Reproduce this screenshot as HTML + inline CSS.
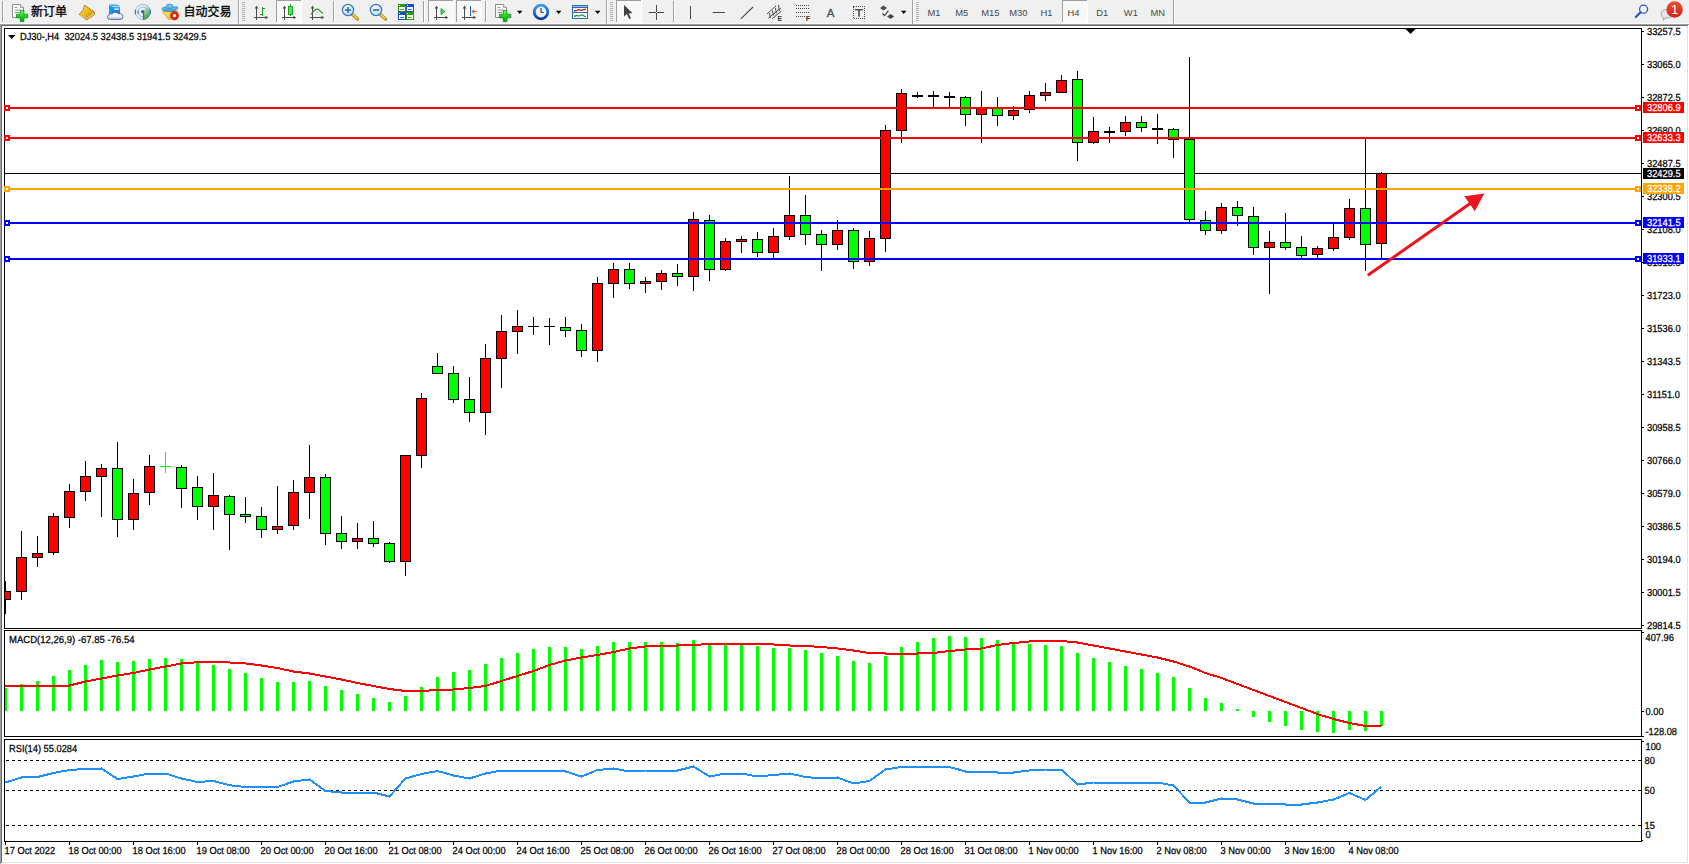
<!DOCTYPE html>
<html><head><meta charset="utf-8"><title>DJ30-,H4</title>
<style>
html,body{margin:0;padding:0;background:#fff;}
body{width:1689px;height:864px;overflow:hidden;position:relative;font-family:"Liberation Sans","Noto Sans CJK SC",sans-serif;}
svg text{white-space:pre;}
</style></head><body>
<svg width="1689" height="864" viewBox="0 0 1689 864" style="position:absolute;left:0;top:0;display:block">
<defs><clipPath id="cm"><rect x="5" y="29" width="1636" height="599"/></clipPath></defs>
<g shape-rendering="crispEdges">
<rect x="0" y="0" width="1689" height="24" fill="#f0f0f0"/>
<rect x="0" y="23" width="1689" height="1" fill="#f9f9f9"/>
<rect x="0" y="24" width="1689" height="840" fill="#ffffff"/>
<rect x="0" y="24" width="1689" height="1" fill="#a0a0a0"/>
<rect x="0" y="25" width="1688" height="1" fill="#696969"/>
<rect x="0" y="24" width="1" height="840" fill="#a0a0a0"/>
<rect x="1" y="25" width="1" height="838" fill="#696969"/>
<rect x="1687" y="26" width="1" height="837" fill="#e3e3e3"/>
<rect x="2" y="862" width="1686" height="1" fill="#e3e3e3"/>
<rect x="4" y="28" width="1638" height="1" fill="#000"/>
<rect x="4" y="28" width="1" height="601" fill="#000"/>
<rect x="4" y="628" width="1638" height="1" fill="#000"/>
<rect x="1641" y="28" width="1" height="601" fill="#000"/>
<rect x="4" y="630" width="1638" height="1" fill="#000"/>
<rect x="4" y="630" width="1" height="107" fill="#000"/>
<rect x="4" y="736" width="1638" height="1" fill="#000"/>
<rect x="1641" y="630" width="1" height="107" fill="#000"/>
<rect x="4" y="739" width="1638" height="1" fill="#000"/>
<rect x="4" y="739" width="1" height="103" fill="#000"/>
<rect x="4" y="841" width="1638" height="1" fill="#000"/>
<rect x="1641" y="739" width="1" height="103" fill="#000"/>
<path d="M1405.5 29 L1415.5 29 L1410.5 34 Z" fill="#000" shape-rendering="geometricPrecision"/>
<rect x="1642" y="31" width="2" height="1" fill="#000"/>
<rect x="1642" y="64" width="2" height="1" fill="#000"/>
<rect x="1642" y="97" width="2" height="1" fill="#000"/>
<rect x="1642" y="130" width="2" height="1" fill="#000"/>
<rect x="1642" y="163" width="2" height="1" fill="#000"/>
<rect x="1642" y="196" width="2" height="1" fill="#000"/>
<rect x="1642" y="229" width="2" height="1" fill="#000"/>
<rect x="1642" y="262" width="2" height="1" fill="#000"/>
<rect x="1642" y="295" width="2" height="1" fill="#000"/>
<rect x="1642" y="328" width="2" height="1" fill="#000"/>
<rect x="1642" y="361" width="2" height="1" fill="#000"/>
<rect x="1642" y="394" width="2" height="1" fill="#000"/>
<rect x="1642" y="427" width="2" height="1" fill="#000"/>
<rect x="1642" y="460" width="2" height="1" fill="#000"/>
<rect x="1642" y="493" width="2" height="1" fill="#000"/>
<rect x="1642" y="526" width="2" height="1" fill="#000"/>
<rect x="1642" y="559" width="2" height="1" fill="#000"/>
<rect x="1642" y="592" width="2" height="1" fill="#000"/>
<rect x="1642" y="625" width="2" height="1" fill="#000"/>
<rect x="1642" y="711" width="2" height="1" fill="#000"/>
<rect x="1642" y="632" width="2" height="1" fill="#000"/>
<rect x="1642" y="736" width="2" height="1" fill="#000"/>
<rect x="1642" y="741" width="2" height="1" fill="#000"/>
<rect x="1642" y="840" width="1" height="1" fill="#000"/>
</g>
<text transform="translate(1647 34.8) scale(0.912 1)" font-family="Liberation Sans, sans-serif" font-size="10.2" fill="#000" text-anchor="start" text-rendering="geometricPrecision" stroke="#000" stroke-width="0.25">33257.5</text>
<text transform="translate(1647 67.8) scale(0.912 1)" font-family="Liberation Sans, sans-serif" font-size="10.2" fill="#000" text-anchor="start" text-rendering="geometricPrecision" stroke="#000" stroke-width="0.25">33065.0</text>
<text transform="translate(1647 100.8) scale(0.912 1)" font-family="Liberation Sans, sans-serif" font-size="10.2" fill="#000" text-anchor="start" text-rendering="geometricPrecision" stroke="#000" stroke-width="0.25">32872.5</text>
<text transform="translate(1647 133.8) scale(0.912 1)" font-family="Liberation Sans, sans-serif" font-size="10.2" fill="#000" text-anchor="start" text-rendering="geometricPrecision" stroke="#000" stroke-width="0.25">32680.0</text>
<text transform="translate(1647 166.8) scale(0.912 1)" font-family="Liberation Sans, sans-serif" font-size="10.2" fill="#000" text-anchor="start" text-rendering="geometricPrecision" stroke="#000" stroke-width="0.25">32487.5</text>
<text transform="translate(1647 199.8) scale(0.912 1)" font-family="Liberation Sans, sans-serif" font-size="10.2" fill="#000" text-anchor="start" text-rendering="geometricPrecision" stroke="#000" stroke-width="0.25">32300.5</text>
<text transform="translate(1647 232.8) scale(0.912 1)" font-family="Liberation Sans, sans-serif" font-size="10.2" fill="#000" text-anchor="start" text-rendering="geometricPrecision" stroke="#000" stroke-width="0.25">32108.0</text>
<text transform="translate(1647 265.8) scale(0.912 1)" font-family="Liberation Sans, sans-serif" font-size="10.2" fill="#000" text-anchor="start" text-rendering="geometricPrecision" stroke="#000" stroke-width="0.25">31915.5</text>
<text transform="translate(1647 298.8) scale(0.912 1)" font-family="Liberation Sans, sans-serif" font-size="10.2" fill="#000" text-anchor="start" text-rendering="geometricPrecision" stroke="#000" stroke-width="0.25">31723.0</text>
<text transform="translate(1647 331.8) scale(0.912 1)" font-family="Liberation Sans, sans-serif" font-size="10.2" fill="#000" text-anchor="start" text-rendering="geometricPrecision" stroke="#000" stroke-width="0.25">31536.0</text>
<text transform="translate(1647 364.8) scale(0.912 1)" font-family="Liberation Sans, sans-serif" font-size="10.2" fill="#000" text-anchor="start" text-rendering="geometricPrecision" stroke="#000" stroke-width="0.25">31343.5</text>
<text transform="translate(1647 397.8) scale(0.912 1)" font-family="Liberation Sans, sans-serif" font-size="10.2" fill="#000" text-anchor="start" text-rendering="geometricPrecision" stroke="#000" stroke-width="0.25">31151.0</text>
<text transform="translate(1647 430.8) scale(0.912 1)" font-family="Liberation Sans, sans-serif" font-size="10.2" fill="#000" text-anchor="start" text-rendering="geometricPrecision" stroke="#000" stroke-width="0.25">30958.5</text>
<text transform="translate(1647 463.8) scale(0.912 1)" font-family="Liberation Sans, sans-serif" font-size="10.2" fill="#000" text-anchor="start" text-rendering="geometricPrecision" stroke="#000" stroke-width="0.25">30766.0</text>
<text transform="translate(1647 496.8) scale(0.912 1)" font-family="Liberation Sans, sans-serif" font-size="10.2" fill="#000" text-anchor="start" text-rendering="geometricPrecision" stroke="#000" stroke-width="0.25">30579.0</text>
<text transform="translate(1647 529.8) scale(0.912 1)" font-family="Liberation Sans, sans-serif" font-size="10.2" fill="#000" text-anchor="start" text-rendering="geometricPrecision" stroke="#000" stroke-width="0.25">30386.5</text>
<text transform="translate(1647 562.8) scale(0.912 1)" font-family="Liberation Sans, sans-serif" font-size="10.2" fill="#000" text-anchor="start" text-rendering="geometricPrecision" stroke="#000" stroke-width="0.25">30194.0</text>
<text transform="translate(1647 595.8) scale(0.912 1)" font-family="Liberation Sans, sans-serif" font-size="10.2" fill="#000" text-anchor="start" text-rendering="geometricPrecision" stroke="#000" stroke-width="0.25">30001.5</text>
<text transform="translate(1647 628.8) scale(0.912 1)" font-family="Liberation Sans, sans-serif" font-size="10.2" fill="#000" text-anchor="start" text-rendering="geometricPrecision" stroke="#000" stroke-width="0.25">29814.5</text>
<text transform="translate(1645.5 640.5) scale(0.912 1)" font-family="Liberation Sans, sans-serif" font-size="10.2" fill="#000" text-anchor="start" text-rendering="geometricPrecision" stroke="#000" stroke-width="0.25">407.96</text>
<text transform="translate(1645.5 715) scale(0.912 1)" font-family="Liberation Sans, sans-serif" font-size="10.2" fill="#000" text-anchor="start" text-rendering="geometricPrecision" stroke="#000" stroke-width="0.25">0.00</text>
<text transform="translate(1645.5 734.5) scale(0.912 1)" font-family="Liberation Sans, sans-serif" font-size="10.2" fill="#000" text-anchor="start" text-rendering="geometricPrecision" stroke="#000" stroke-width="0.25">-128.08</text>
<text transform="translate(1645.5 750.3) scale(0.912 1)" font-family="Liberation Sans, sans-serif" font-size="10.2" fill="#000" text-anchor="start" text-rendering="geometricPrecision" stroke="#000" stroke-width="0.25">100</text>
<text transform="translate(1644.5 764.3) scale(0.912 1)" font-family="Liberation Sans, sans-serif" font-size="10.2" fill="#000" text-anchor="start" text-rendering="geometricPrecision" stroke="#000" stroke-width="0.25">80</text>
<text transform="translate(1644.5 794.3) scale(0.912 1)" font-family="Liberation Sans, sans-serif" font-size="10.2" fill="#000" text-anchor="start" text-rendering="geometricPrecision" stroke="#000" stroke-width="0.25">50</text>
<text transform="translate(1644.5 828.8) scale(0.912 1)" font-family="Liberation Sans, sans-serif" font-size="10.2" fill="#000" text-anchor="start" text-rendering="geometricPrecision" stroke="#000" stroke-width="0.25">15</text>
<text transform="translate(1645.5 838.2) scale(0.912 1)" font-family="Liberation Sans, sans-serif" font-size="10.2" fill="#000" text-anchor="start" text-rendering="geometricPrecision" stroke="#000" stroke-width="0.25">0</text>
<g shape-rendering="crispEdges" clip-path="url(#cm)">
<rect x="5" y="173" width="1636" height="1" fill="#000"/>
<rect x="5" y="581" width="1" height="33" fill="#000"/>
<rect x="0" y="591" width="11" height="9" fill="#000"/>
<rect x="1" y="592" width="9" height="7" fill="#ff0000"/>
<rect x="21" y="531" width="1" height="69" fill="#000"/>
<rect x="16" y="557" width="11" height="35" fill="#000"/>
<rect x="17" y="558" width="9" height="33" fill="#ff0000"/>
<rect x="37" y="536" width="1" height="31" fill="#000"/>
<rect x="32" y="553" width="11" height="5" fill="#000"/>
<rect x="33" y="554" width="9" height="3" fill="#ff0000"/>
<rect x="53" y="513" width="1" height="42" fill="#000"/>
<rect x="48" y="516" width="11" height="37" fill="#000"/>
<rect x="49" y="517" width="9" height="35" fill="#ff0000"/>
<rect x="69" y="484" width="1" height="44" fill="#000"/>
<rect x="64" y="491" width="11" height="27" fill="#000"/>
<rect x="65" y="492" width="9" height="25" fill="#ff0000"/>
<rect x="85" y="461" width="1" height="40" fill="#000"/>
<rect x="80" y="476" width="11" height="16" fill="#000"/>
<rect x="81" y="477" width="9" height="14" fill="#ff0000"/>
<rect x="101" y="464" width="1" height="53" fill="#000"/>
<rect x="96" y="468" width="11" height="9" fill="#000"/>
<rect x="97" y="469" width="9" height="7" fill="#ff0000"/>
<rect x="117" y="442" width="1" height="95" fill="#000"/>
<rect x="112" y="468" width="11" height="52" fill="#000"/>
<rect x="113" y="469" width="9" height="50" fill="#00ff00"/>
<rect x="133" y="479" width="1" height="51" fill="#000"/>
<rect x="128" y="493" width="11" height="27" fill="#000"/>
<rect x="129" y="494" width="9" height="25" fill="#ff0000"/>
<rect x="149" y="455" width="1" height="50" fill="#000"/>
<rect x="144" y="466" width="11" height="27" fill="#000"/>
<rect x="145" y="467" width="9" height="25" fill="#ff0000"/>
<rect x="165" y="452" width="1" height="21" fill="#00ff00"/>
<rect x="160" y="466" width="11" height="1" fill="#00ff00"/>
<rect x="181" y="465" width="1" height="43" fill="#000"/>
<rect x="176" y="467" width="11" height="22" fill="#000"/>
<rect x="177" y="468" width="9" height="20" fill="#00ff00"/>
<rect x="197" y="476" width="1" height="44" fill="#000"/>
<rect x="192" y="487" width="11" height="20" fill="#000"/>
<rect x="193" y="488" width="9" height="18" fill="#00ff00"/>
<rect x="213" y="473" width="1" height="57" fill="#000"/>
<rect x="208" y="495" width="11" height="12" fill="#000"/>
<rect x="209" y="496" width="9" height="10" fill="#ff0000"/>
<rect x="229" y="495" width="1" height="55" fill="#000"/>
<rect x="224" y="496" width="11" height="19" fill="#000"/>
<rect x="225" y="497" width="9" height="17" fill="#00ff00"/>
<rect x="245" y="497" width="1" height="26" fill="#000"/>
<rect x="240" y="514" width="11" height="3" fill="#000"/>
<rect x="241" y="515" width="9" height="1" fill="#00ff00"/>
<rect x="261" y="507" width="1" height="31" fill="#000"/>
<rect x="256" y="516" width="11" height="14" fill="#000"/>
<rect x="257" y="517" width="9" height="12" fill="#00ff00"/>
<rect x="277" y="486" width="1" height="48" fill="#000"/>
<rect x="272" y="526" width="11" height="4" fill="#000"/>
<rect x="273" y="527" width="9" height="2" fill="#ff0000"/>
<rect x="293" y="480" width="1" height="50" fill="#000"/>
<rect x="288" y="492" width="11" height="34" fill="#000"/>
<rect x="289" y="493" width="9" height="32" fill="#ff0000"/>
<rect x="309" y="445" width="1" height="74" fill="#000"/>
<rect x="304" y="477" width="11" height="16" fill="#000"/>
<rect x="305" y="478" width="9" height="14" fill="#ff0000"/>
<rect x="325" y="474" width="1" height="71" fill="#000"/>
<rect x="320" y="477" width="11" height="57" fill="#000"/>
<rect x="321" y="478" width="9" height="55" fill="#00ff00"/>
<rect x="341" y="516" width="1" height="33" fill="#000"/>
<rect x="336" y="533" width="11" height="9" fill="#000"/>
<rect x="337" y="534" width="9" height="7" fill="#00ff00"/>
<rect x="357" y="523" width="1" height="26" fill="#000"/>
<rect x="352" y="538" width="11" height="4" fill="#000"/>
<rect x="353" y="539" width="9" height="2" fill="#ff0000"/>
<rect x="373" y="521" width="1" height="26" fill="#000"/>
<rect x="368" y="538" width="11" height="6" fill="#000"/>
<rect x="369" y="539" width="9" height="4" fill="#00ff00"/>
<rect x="389" y="542" width="1" height="21" fill="#000"/>
<rect x="384" y="543" width="11" height="19" fill="#000"/>
<rect x="385" y="544" width="9" height="17" fill="#00ff00"/>
<rect x="405" y="455" width="1" height="121" fill="#000"/>
<rect x="400" y="455" width="11" height="107" fill="#000"/>
<rect x="401" y="456" width="9" height="105" fill="#ff0000"/>
<rect x="421" y="393" width="1" height="75" fill="#000"/>
<rect x="416" y="398" width="11" height="58" fill="#000"/>
<rect x="417" y="399" width="9" height="56" fill="#ff0000"/>
<rect x="437" y="353" width="1" height="21" fill="#000"/>
<rect x="432" y="366" width="11" height="8" fill="#000"/>
<rect x="433" y="367" width="9" height="6" fill="#00ff00"/>
<rect x="453" y="366" width="1" height="37" fill="#000"/>
<rect x="448" y="373" width="11" height="27" fill="#000"/>
<rect x="449" y="374" width="9" height="25" fill="#00ff00"/>
<rect x="469" y="377" width="1" height="45" fill="#000"/>
<rect x="464" y="399" width="11" height="14" fill="#000"/>
<rect x="465" y="400" width="9" height="12" fill="#00ff00"/>
<rect x="485" y="344" width="1" height="91" fill="#000"/>
<rect x="480" y="358" width="11" height="55" fill="#000"/>
<rect x="481" y="359" width="9" height="53" fill="#ff0000"/>
<rect x="501" y="315" width="1" height="73" fill="#000"/>
<rect x="496" y="331" width="11" height="28" fill="#000"/>
<rect x="497" y="332" width="9" height="26" fill="#ff0000"/>
<rect x="517" y="310" width="1" height="44" fill="#000"/>
<rect x="512" y="326" width="11" height="6" fill="#000"/>
<rect x="513" y="327" width="9" height="4" fill="#ff0000"/>
<rect x="533" y="317" width="1" height="18" fill="#000"/>
<rect x="528" y="326" width="11" height="1" fill="#000"/>
<rect x="549" y="318" width="1" height="27" fill="#000"/>
<rect x="544" y="326" width="11" height="1" fill="#000"/>
<rect x="565" y="317" width="1" height="20" fill="#000"/>
<rect x="560" y="327" width="11" height="4" fill="#000"/>
<rect x="561" y="328" width="9" height="2" fill="#00ff00"/>
<rect x="581" y="324" width="1" height="33" fill="#000"/>
<rect x="576" y="330" width="11" height="21" fill="#000"/>
<rect x="577" y="331" width="9" height="19" fill="#00ff00"/>
<rect x="597" y="277" width="1" height="85" fill="#000"/>
<rect x="592" y="283" width="11" height="68" fill="#000"/>
<rect x="593" y="284" width="9" height="66" fill="#ff0000"/>
<rect x="613" y="263" width="1" height="35" fill="#000"/>
<rect x="608" y="269" width="11" height="15" fill="#000"/>
<rect x="609" y="270" width="9" height="13" fill="#ff0000"/>
<rect x="629" y="263" width="1" height="26" fill="#000"/>
<rect x="624" y="269" width="11" height="15" fill="#000"/>
<rect x="625" y="270" width="9" height="13" fill="#00ff00"/>
<rect x="645" y="277" width="1" height="16" fill="#000"/>
<rect x="640" y="281" width="11" height="3" fill="#000"/>
<rect x="641" y="282" width="9" height="1" fill="#ff0000"/>
<rect x="661" y="270" width="1" height="20" fill="#000"/>
<rect x="656" y="273" width="11" height="9" fill="#000"/>
<rect x="657" y="274" width="9" height="7" fill="#ff0000"/>
<rect x="677" y="264" width="1" height="22" fill="#000"/>
<rect x="672" y="273" width="11" height="4" fill="#000"/>
<rect x="673" y="274" width="9" height="2" fill="#00ff00"/>
<rect x="693" y="212" width="1" height="79" fill="#000"/>
<rect x="688" y="219" width="11" height="58" fill="#000"/>
<rect x="689" y="220" width="9" height="56" fill="#ff0000"/>
<rect x="709" y="215" width="1" height="66" fill="#000"/>
<rect x="704" y="220" width="11" height="50" fill="#000"/>
<rect x="705" y="221" width="9" height="48" fill="#00ff00"/>
<rect x="725" y="238" width="1" height="33" fill="#000"/>
<rect x="720" y="241" width="11" height="29" fill="#000"/>
<rect x="721" y="242" width="9" height="27" fill="#ff0000"/>
<rect x="741" y="236" width="1" height="17" fill="#000"/>
<rect x="736" y="239" width="11" height="3" fill="#000"/>
<rect x="737" y="240" width="9" height="1" fill="#ff0000"/>
<rect x="757" y="232" width="1" height="25" fill="#000"/>
<rect x="752" y="239" width="11" height="14" fill="#000"/>
<rect x="753" y="240" width="9" height="12" fill="#00ff00"/>
<rect x="773" y="228" width="1" height="30" fill="#000"/>
<rect x="768" y="236" width="11" height="17" fill="#000"/>
<rect x="769" y="237" width="9" height="15" fill="#ff0000"/>
<rect x="789" y="176" width="1" height="64" fill="#000"/>
<rect x="784" y="215" width="11" height="22" fill="#000"/>
<rect x="785" y="216" width="9" height="20" fill="#ff0000"/>
<rect x="805" y="195" width="1" height="50" fill="#000"/>
<rect x="800" y="215" width="11" height="20" fill="#000"/>
<rect x="801" y="216" width="9" height="18" fill="#00ff00"/>
<rect x="821" y="230" width="1" height="41" fill="#000"/>
<rect x="816" y="234" width="11" height="11" fill="#000"/>
<rect x="817" y="235" width="9" height="9" fill="#00ff00"/>
<rect x="837" y="220" width="1" height="30" fill="#000"/>
<rect x="832" y="230" width="11" height="15" fill="#000"/>
<rect x="833" y="231" width="9" height="13" fill="#ff0000"/>
<rect x="853" y="228" width="1" height="41" fill="#000"/>
<rect x="848" y="230" width="11" height="32" fill="#000"/>
<rect x="849" y="231" width="9" height="30" fill="#00ff00"/>
<rect x="869" y="231" width="1" height="35" fill="#000"/>
<rect x="864" y="238" width="11" height="24" fill="#000"/>
<rect x="865" y="239" width="9" height="22" fill="#ff0000"/>
<rect x="885" y="125" width="1" height="127" fill="#000"/>
<rect x="880" y="130" width="11" height="109" fill="#000"/>
<rect x="881" y="131" width="9" height="107" fill="#ff0000"/>
<rect x="901" y="89" width="1" height="54" fill="#000"/>
<rect x="896" y="93" width="11" height="38" fill="#000"/>
<rect x="897" y="94" width="9" height="36" fill="#ff0000"/>
<rect x="917" y="92" width="1" height="6" fill="#000"/>
<rect x="912" y="95" width="11" height="2" fill="#000"/>
<rect x="933" y="91" width="1" height="16" fill="#000"/>
<rect x="928" y="95" width="11" height="2" fill="#000"/>
<rect x="949" y="92" width="1" height="15" fill="#000"/>
<rect x="944" y="96" width="11" height="2" fill="#000"/>
<rect x="965" y="96" width="1" height="30" fill="#000"/>
<rect x="960" y="97" width="11" height="18" fill="#000"/>
<rect x="961" y="98" width="9" height="16" fill="#00ff00"/>
<rect x="981" y="91" width="1" height="52" fill="#000"/>
<rect x="976" y="107" width="11" height="8" fill="#000"/>
<rect x="977" y="108" width="9" height="6" fill="#ff0000"/>
<rect x="997" y="97" width="1" height="29" fill="#000"/>
<rect x="992" y="108" width="11" height="8" fill="#000"/>
<rect x="993" y="109" width="9" height="6" fill="#00ff00"/>
<rect x="1013" y="106" width="1" height="14" fill="#000"/>
<rect x="1008" y="110" width="11" height="6" fill="#000"/>
<rect x="1009" y="111" width="9" height="4" fill="#ff0000"/>
<rect x="1029" y="91" width="1" height="22" fill="#000"/>
<rect x="1024" y="95" width="11" height="15" fill="#000"/>
<rect x="1025" y="96" width="9" height="13" fill="#ff0000"/>
<rect x="1045" y="83" width="1" height="18" fill="#000"/>
<rect x="1040" y="92" width="11" height="4" fill="#000"/>
<rect x="1041" y="93" width="9" height="2" fill="#ff0000"/>
<rect x="1061" y="75" width="1" height="18" fill="#000"/>
<rect x="1056" y="80" width="11" height="13" fill="#000"/>
<rect x="1057" y="81" width="9" height="11" fill="#ff0000"/>
<rect x="1077" y="71" width="1" height="90" fill="#000"/>
<rect x="1072" y="79" width="11" height="64" fill="#000"/>
<rect x="1073" y="80" width="9" height="62" fill="#00ff00"/>
<rect x="1093" y="117" width="1" height="27" fill="#000"/>
<rect x="1088" y="131" width="11" height="12" fill="#000"/>
<rect x="1089" y="132" width="9" height="10" fill="#ff0000"/>
<rect x="1109" y="127" width="1" height="16" fill="#000"/>
<rect x="1104" y="131" width="11" height="2" fill="#000"/>
<rect x="1125" y="116" width="1" height="20" fill="#000"/>
<rect x="1120" y="122" width="11" height="10" fill="#000"/>
<rect x="1121" y="123" width="9" height="8" fill="#ff0000"/>
<rect x="1141" y="116" width="1" height="16" fill="#000"/>
<rect x="1136" y="122" width="11" height="6" fill="#000"/>
<rect x="1137" y="123" width="9" height="4" fill="#00ff00"/>
<rect x="1157" y="114" width="1" height="30" fill="#000"/>
<rect x="1152" y="128" width="11" height="2" fill="#000"/>
<rect x="1173" y="128" width="1" height="30" fill="#000"/>
<rect x="1168" y="129" width="11" height="11" fill="#000"/>
<rect x="1169" y="130" width="9" height="9" fill="#00ff00"/>
<rect x="1189" y="57" width="1" height="165" fill="#000"/>
<rect x="1184" y="139" width="11" height="81" fill="#000"/>
<rect x="1185" y="140" width="9" height="79" fill="#00ff00"/>
<rect x="1205" y="211" width="1" height="24" fill="#000"/>
<rect x="1200" y="220" width="11" height="11" fill="#000"/>
<rect x="1201" y="221" width="9" height="9" fill="#00ff00"/>
<rect x="1221" y="203" width="1" height="31" fill="#000"/>
<rect x="1216" y="207" width="11" height="24" fill="#000"/>
<rect x="1217" y="208" width="9" height="22" fill="#ff0000"/>
<rect x="1237" y="201" width="1" height="25" fill="#000"/>
<rect x="1232" y="207" width="11" height="9" fill="#000"/>
<rect x="1233" y="208" width="9" height="7" fill="#00ff00"/>
<rect x="1253" y="207" width="1" height="48" fill="#000"/>
<rect x="1248" y="216" width="11" height="32" fill="#000"/>
<rect x="1249" y="217" width="9" height="30" fill="#00ff00"/>
<rect x="1269" y="231" width="1" height="63" fill="#000"/>
<rect x="1264" y="242" width="11" height="6" fill="#000"/>
<rect x="1265" y="243" width="9" height="4" fill="#ff0000"/>
<rect x="1285" y="213" width="1" height="37" fill="#000"/>
<rect x="1280" y="242" width="11" height="6" fill="#000"/>
<rect x="1281" y="243" width="9" height="4" fill="#00ff00"/>
<rect x="1301" y="236" width="1" height="22" fill="#000"/>
<rect x="1296" y="247" width="11" height="9" fill="#000"/>
<rect x="1297" y="248" width="9" height="7" fill="#00ff00"/>
<rect x="1317" y="246" width="1" height="12" fill="#000"/>
<rect x="1312" y="248" width="11" height="7" fill="#000"/>
<rect x="1313" y="249" width="9" height="5" fill="#ff0000"/>
<rect x="1333" y="224" width="1" height="27" fill="#000"/>
<rect x="1328" y="237" width="11" height="12" fill="#000"/>
<rect x="1329" y="238" width="9" height="10" fill="#ff0000"/>
<rect x="1349" y="199" width="1" height="41" fill="#000"/>
<rect x="1344" y="208" width="11" height="30" fill="#000"/>
<rect x="1345" y="209" width="9" height="28" fill="#ff0000"/>
<rect x="1365" y="139" width="1" height="132" fill="#000"/>
<rect x="1360" y="208" width="11" height="37" fill="#000"/>
<rect x="1361" y="209" width="9" height="35" fill="#00ff00"/>
<rect x="1381" y="172" width="1" height="86" fill="#000"/>
<rect x="1376" y="173" width="11" height="71" fill="#000"/>
<rect x="1377" y="174" width="9" height="69" fill="#ff0000"/>
</g>
<g shape-rendering="crispEdges">
<rect x="5" y="107" width="1636" height="2" fill="#ff0000"/>
<rect x="4" y="105" width="6" height="6" fill="#ff0000"/>
<rect x="6" y="107" width="2" height="2" fill="#fff"/>
<rect x="1635" y="105" width="6" height="6" fill="#ff0000"/>
<rect x="1637" y="107" width="2" height="2" fill="#fff"/>
<rect x="1643" y="102" width="41" height="11" fill="#ff0000"/>
<rect x="5" y="137" width="1636" height="2" fill="#ff0000"/>
<rect x="4" y="135" width="6" height="6" fill="#ff0000"/>
<rect x="6" y="137" width="2" height="2" fill="#fff"/>
<rect x="1635" y="135" width="6" height="6" fill="#ff0000"/>
<rect x="1637" y="137" width="2" height="2" fill="#fff"/>
<rect x="1643" y="132" width="41" height="11" fill="#ff0000"/>
<rect x="5" y="188" width="1636" height="2" fill="#ffa500"/>
<rect x="4" y="186" width="6" height="6" fill="#ffa500"/>
<rect x="6" y="188" width="2" height="2" fill="#fff"/>
<rect x="1635" y="186" width="6" height="6" fill="#ffa500"/>
<rect x="1637" y="188" width="2" height="2" fill="#fff"/>
<rect x="1643" y="183" width="41" height="11" fill="#ffa500"/>
<rect x="5" y="222" width="1636" height="2" fill="#0000ff"/>
<rect x="4" y="220" width="6" height="6" fill="#0000ff"/>
<rect x="6" y="222" width="2" height="2" fill="#fff"/>
<rect x="1635" y="220" width="6" height="6" fill="#0000ff"/>
<rect x="1637" y="222" width="2" height="2" fill="#fff"/>
<rect x="1643" y="217" width="41" height="11" fill="#0000ff"/>
<rect x="5" y="258" width="1636" height="2" fill="#0000ff"/>
<rect x="4" y="256" width="6" height="6" fill="#0000ff"/>
<rect x="6" y="258" width="2" height="2" fill="#fff"/>
<rect x="1635" y="256" width="6" height="6" fill="#0000ff"/>
<rect x="1637" y="258" width="2" height="2" fill="#fff"/>
<rect x="1643" y="253" width="41" height="11" fill="#0000ff"/>
<rect x="1643" y="168" width="41" height="11" fill="#000"/>
</g>
<text transform="translate(1647 111.4) scale(0.912 1)" font-family="Liberation Sans, sans-serif" font-size="10.2" fill="#fff" text-anchor="start" text-rendering="geometricPrecision" stroke="#fff" stroke-width="0.25">32806.9</text>
<text transform="translate(1647 141.4) scale(0.912 1)" font-family="Liberation Sans, sans-serif" font-size="10.2" fill="#fff" text-anchor="start" text-rendering="geometricPrecision" stroke="#fff" stroke-width="0.25">32633.3</text>
<text transform="translate(1647 192.4) scale(0.912 1)" font-family="Liberation Sans, sans-serif" font-size="10.2" fill="#fff" text-anchor="start" text-rendering="geometricPrecision" stroke="#fff" stroke-width="0.25">32338.2</text>
<text transform="translate(1647 226.4) scale(0.912 1)" font-family="Liberation Sans, sans-serif" font-size="10.2" fill="#fff" text-anchor="start" text-rendering="geometricPrecision" stroke="#fff" stroke-width="0.25">32141.5</text>
<text transform="translate(1647 262.4) scale(0.912 1)" font-family="Liberation Sans, sans-serif" font-size="10.2" fill="#fff" text-anchor="start" text-rendering="geometricPrecision" stroke="#fff" stroke-width="0.25">31933.1</text>
<text transform="translate(1647 177.4) scale(0.912 1)" font-family="Liberation Sans, sans-serif" font-size="10.2" fill="#fff" text-anchor="start" text-rendering="geometricPrecision" stroke="#fff" stroke-width="0.25">32429.5</text>
<g fill="#e9141d" stroke="none"><path d="M1367.8 275.3 L1470.5 203.2" stroke="#e9141d" stroke-width="3" fill="none"/><path d="M1484.3 193.4 L1464.4 196.3 L1474.8 211.2 Z"/></g>
<path d="M8 35 L15.4 35 L11.7 39 Z" fill="#000"/>
<text transform="translate(20 40) scale(0.912 1)" font-family="Liberation Sans, sans-serif" font-size="10.2" fill="#000" text-anchor="start" text-rendering="geometricPrecision" stroke="#000" stroke-width="0.25">DJ30-,H4&#160; 32024.5 32438.5 31941.5 32429.5</text>
<g shape-rendering="crispEdges">
<rect x="5" y="688" width="2" height="23" fill="#00ff00"/>
<rect x="20" y="684" width="3" height="27" fill="#00ff00"/>
<rect x="36" y="681" width="3" height="30" fill="#00ff00"/>
<rect x="52" y="676" width="3" height="35" fill="#00ff00"/>
<rect x="68" y="670" width="3" height="41" fill="#00ff00"/>
<rect x="84" y="665" width="3" height="46" fill="#00ff00"/>
<rect x="100" y="660" width="3" height="51" fill="#00ff00"/>
<rect x="116" y="662" width="3" height="49" fill="#00ff00"/>
<rect x="132" y="661" width="3" height="50" fill="#00ff00"/>
<rect x="148" y="659" width="3" height="52" fill="#00ff00"/>
<rect x="164" y="658" width="3" height="53" fill="#00ff00"/>
<rect x="180" y="659" width="3" height="52" fill="#00ff00"/>
<rect x="196" y="663" width="3" height="48" fill="#00ff00"/>
<rect x="212" y="665" width="3" height="46" fill="#00ff00"/>
<rect x="228" y="669" width="3" height="42" fill="#00ff00"/>
<rect x="244" y="673" width="3" height="38" fill="#00ff00"/>
<rect x="260" y="678" width="3" height="33" fill="#00ff00"/>
<rect x="276" y="682" width="3" height="29" fill="#00ff00"/>
<rect x="292" y="682" width="3" height="29" fill="#00ff00"/>
<rect x="308" y="681" width="3" height="30" fill="#00ff00"/>
<rect x="324" y="686" width="3" height="25" fill="#00ff00"/>
<rect x="340" y="690" width="3" height="21" fill="#00ff00"/>
<rect x="356" y="694" width="3" height="17" fill="#00ff00"/>
<rect x="372" y="698" width="3" height="13" fill="#00ff00"/>
<rect x="388" y="702" width="3" height="9" fill="#00ff00"/>
<rect x="404" y="696" width="3" height="15" fill="#00ff00"/>
<rect x="420" y="687" width="3" height="24" fill="#00ff00"/>
<rect x="436" y="677" width="3" height="34" fill="#00ff00"/>
<rect x="452" y="672" width="3" height="39" fill="#00ff00"/>
<rect x="468" y="670" width="3" height="41" fill="#00ff00"/>
<rect x="484" y="664" width="3" height="47" fill="#00ff00"/>
<rect x="500" y="658" width="3" height="53" fill="#00ff00"/>
<rect x="516" y="653" width="3" height="58" fill="#00ff00"/>
<rect x="532" y="649" width="3" height="62" fill="#00ff00"/>
<rect x="548" y="647" width="3" height="64" fill="#00ff00"/>
<rect x="564" y="647" width="3" height="64" fill="#00ff00"/>
<rect x="580" y="649" width="3" height="62" fill="#00ff00"/>
<rect x="596" y="646" width="3" height="65" fill="#00ff00"/>
<rect x="612" y="642" width="3" height="69" fill="#00ff00"/>
<rect x="628" y="642" width="3" height="69" fill="#00ff00"/>
<rect x="644" y="642" width="3" height="69" fill="#00ff00"/>
<rect x="660" y="642" width="3" height="69" fill="#00ff00"/>
<rect x="676" y="643" width="3" height="68" fill="#00ff00"/>
<rect x="692" y="640" width="3" height="71" fill="#00ff00"/>
<rect x="708" y="644" width="3" height="67" fill="#00ff00"/>
<rect x="724" y="644" width="3" height="67" fill="#00ff00"/>
<rect x="740" y="644" width="3" height="67" fill="#00ff00"/>
<rect x="756" y="646" width="3" height="65" fill="#00ff00"/>
<rect x="772" y="648" width="3" height="63" fill="#00ff00"/>
<rect x="788" y="648" width="3" height="63" fill="#00ff00"/>
<rect x="804" y="650" width="3" height="61" fill="#00ff00"/>
<rect x="820" y="653" width="3" height="58" fill="#00ff00"/>
<rect x="836" y="656" width="3" height="55" fill="#00ff00"/>
<rect x="852" y="661" width="3" height="50" fill="#00ff00"/>
<rect x="868" y="663" width="3" height="48" fill="#00ff00"/>
<rect x="884" y="656" width="3" height="55" fill="#00ff00"/>
<rect x="900" y="647" width="3" height="64" fill="#00ff00"/>
<rect x="916" y="642" width="3" height="69" fill="#00ff00"/>
<rect x="932" y="638" width="3" height="73" fill="#00ff00"/>
<rect x="948" y="636" width="3" height="75" fill="#00ff00"/>
<rect x="964" y="637" width="3" height="74" fill="#00ff00"/>
<rect x="980" y="638" width="3" height="73" fill="#00ff00"/>
<rect x="996" y="640" width="3" height="71" fill="#00ff00"/>
<rect x="1012" y="643" width="3" height="68" fill="#00ff00"/>
<rect x="1028" y="644" width="3" height="67" fill="#00ff00"/>
<rect x="1044" y="645" width="3" height="66" fill="#00ff00"/>
<rect x="1060" y="646" width="3" height="65" fill="#00ff00"/>
<rect x="1076" y="653" width="3" height="58" fill="#00ff00"/>
<rect x="1092" y="658" width="3" height="53" fill="#00ff00"/>
<rect x="1108" y="662" width="3" height="49" fill="#00ff00"/>
<rect x="1124" y="666" width="3" height="45" fill="#00ff00"/>
<rect x="1140" y="669" width="3" height="42" fill="#00ff00"/>
<rect x="1156" y="673" width="3" height="38" fill="#00ff00"/>
<rect x="1172" y="677" width="3" height="34" fill="#00ff00"/>
<rect x="1188" y="688" width="3" height="23" fill="#00ff00"/>
<rect x="1204" y="698" width="3" height="13" fill="#00ff00"/>
<rect x="1220" y="703" width="3" height="8" fill="#00ff00"/>
<rect x="1236" y="709" width="3" height="2" fill="#00ff00"/>
<rect x="1252" y="711" width="3" height="6" fill="#00ff00"/>
<rect x="1268" y="711" width="3" height="11" fill="#00ff00"/>
<rect x="1284" y="711" width="3" height="15" fill="#00ff00"/>
<rect x="1300" y="711" width="3" height="19" fill="#00ff00"/>
<rect x="1316" y="711" width="3" height="21" fill="#00ff00"/>
<rect x="1332" y="711" width="3" height="22" fill="#00ff00"/>
<rect x="1348" y="711" width="3" height="19" fill="#00ff00"/>
<rect x="1364" y="711" width="3" height="20" fill="#00ff00"/>
<rect x="1380" y="711" width="3" height="15" fill="#00ff00"/>
<polyline points="5.5,686.50 21.5,686.00 37.5,685.50 53.5,685.50 69.5,685.50 85.5,681.50 101.5,678.50 117.5,675.50 133.5,673.00 149.5,669.50 165.5,666.50 181.5,663.50 197.5,662.25 213.5,662.25 229.5,662.50 245.5,663.50 261.5,665.50 277.5,668.00 293.5,671.50 309.5,673.50 325.5,676.50 341.5,679.50 357.5,683.00 373.5,686.00 389.5,689.00 405.5,691.00 421.5,691.00 437.5,690.00 453.5,689.50 469.5,688.00 485.5,686.00 501.5,681.00 517.5,676.00 533.5,671.00 549.5,665.00 565.5,660.50 581.5,657.50 597.5,655.00 613.5,652.00 629.5,648.50 645.5,646.50 661.5,645.50 677.5,645.50 693.5,645.00 709.5,644.00 725.5,643.50 741.5,643.50 757.5,643.50 773.5,644.50 789.5,645.50 805.5,646.00 821.5,647.00 837.5,648.50 853.5,650.50 869.5,653.00 885.5,653.50 901.5,653.50 917.5,653.50 933.5,653.00 949.5,651.00 965.5,649.50 981.5,648.50 997.5,645.00 1013.5,643.00 1029.5,641.50 1045.5,641.00 1061.5,641.00 1077.5,642.50 1093.5,645.50 1109.5,648.50 1125.5,651.50 1141.5,654.50 1157.5,657.50 1173.5,661.50 1189.5,666.50 1205.5,673.00 1221.5,678.00 1237.5,684.00 1253.5,690.00 1269.5,696.00 1285.5,702.00 1301.5,708.00 1317.5,714.00 1333.5,719.00 1349.5,723.00 1365.5,726.00 1381.5,726.50" fill="none" stroke="#ff0000" stroke-width="2"/>
</g>
<text transform="translate(9 643.3) scale(0.935 1)" font-family="Liberation Sans, sans-serif" font-size="10.2" fill="#000" text-anchor="start" text-rendering="geometricPrecision" stroke="#000" stroke-width="0.25">MACD(12,26,9) -67.85 -76.54</text>
<g shape-rendering="crispEdges">
<line x1="6" y1="760.5" x2="1641" y2="760.5" stroke="#000" stroke-width="1" stroke-dasharray="3 3"/>
<line x1="6" y1="790.5" x2="1641" y2="790.5" stroke="#000" stroke-width="1" stroke-dasharray="3 3"/>
<line x1="6" y1="825.5" x2="1641" y2="825.5" stroke="#000" stroke-width="1" stroke-dasharray="3 3"/>
<polyline points="5.5,782.50 21.5,777.50 37.5,777.00 53.5,773.00 69.5,770.00 85.5,769.00 101.5,768.50 117.5,779.00 133.5,776.50 149.5,773.50 165.5,773.50 181.5,778.50 197.5,782.00 213.5,781.00 229.5,785.25 245.5,787.00 261.5,787.00 277.5,787.00 293.5,781.50 309.5,779.50 325.5,791.00 341.5,792.50 357.5,792.50 373.5,792.50 389.5,796.50 405.5,778.50 421.5,774.00 437.5,771.00 453.5,775.50 469.5,778.50 485.5,773.50 501.5,770.50 517.5,770.50 533.5,770.50 549.5,770.50 565.5,771.50 581.5,776.50 597.5,770.00 613.5,768.50 629.5,771.50 645.5,770.50 661.5,770.50 677.5,770.50 693.5,766.50 709.5,776.50 725.5,773.50 741.5,773.50 757.5,776.50 773.5,775.00 789.5,773.50 805.5,777.00 821.5,778.50 837.5,777.50 853.5,783.50 869.5,781.00 885.5,769.50 901.5,767.00 917.5,767.00 933.5,767.00 949.5,767.00 965.5,771.50 981.5,771.50 997.5,772.50 1013.5,772.50 1029.5,770.50 1045.5,769.50 1061.5,769.50 1077.5,784.50 1093.5,782.50 1109.5,782.50 1125.5,782.50 1141.5,782.50 1157.5,782.50 1173.5,785.50 1189.5,802.50 1205.5,802.50 1221.5,798.50 1237.5,799.50 1253.5,803.50 1269.5,803.50 1285.5,804.50 1301.5,804.50 1317.5,802.50 1333.5,799.50 1349.5,793.00 1365.5,800.00 1381.5,786.50" fill="none" stroke="#1e90ff" stroke-width="2"/>
<rect x="5" y="842" width="1" height="3" fill="#000"/>
<rect x="69" y="842" width="1" height="3" fill="#000"/>
<rect x="133" y="842" width="1" height="3" fill="#000"/>
<rect x="197" y="842" width="1" height="3" fill="#000"/>
<rect x="261" y="842" width="1" height="3" fill="#000"/>
<rect x="325" y="842" width="1" height="3" fill="#000"/>
<rect x="389" y="842" width="1" height="3" fill="#000"/>
<rect x="453" y="842" width="1" height="3" fill="#000"/>
<rect x="517" y="842" width="1" height="3" fill="#000"/>
<rect x="581" y="842" width="1" height="3" fill="#000"/>
<rect x="645" y="842" width="1" height="3" fill="#000"/>
<rect x="709" y="842" width="1" height="3" fill="#000"/>
<rect x="773" y="842" width="1" height="3" fill="#000"/>
<rect x="837" y="842" width="1" height="3" fill="#000"/>
<rect x="901" y="842" width="1" height="3" fill="#000"/>
<rect x="965" y="842" width="1" height="3" fill="#000"/>
<rect x="1029" y="842" width="1" height="3" fill="#000"/>
<rect x="1093" y="842" width="1" height="3" fill="#000"/>
<rect x="1157" y="842" width="1" height="3" fill="#000"/>
<rect x="1221" y="842" width="1" height="3" fill="#000"/>
<rect x="1285" y="842" width="1" height="3" fill="#000"/>
<rect x="1349" y="842" width="1" height="3" fill="#000"/>
</g>
<text transform="translate(9 752.3) scale(0.912 1)" font-family="Liberation Sans, sans-serif" font-size="10.2" fill="#000" text-anchor="start" text-rendering="geometricPrecision" stroke="#000" stroke-width="0.25">RSI(14) 55.0284</text>
<text transform="translate(4.5 854) scale(0.912 1)" font-family="Liberation Sans, sans-serif" font-size="10.2" fill="#000" text-anchor="start" text-rendering="geometricPrecision" stroke="#000" stroke-width="0.25">17 Oct 2022</text>
<text transform="translate(68.5 854) scale(0.912 1)" font-family="Liberation Sans, sans-serif" font-size="10.2" fill="#000" text-anchor="start" text-rendering="geometricPrecision" stroke="#000" stroke-width="0.25">18 Oct 00:00</text>
<text transform="translate(132.5 854) scale(0.912 1)" font-family="Liberation Sans, sans-serif" font-size="10.2" fill="#000" text-anchor="start" text-rendering="geometricPrecision" stroke="#000" stroke-width="0.25">18 Oct 16:00</text>
<text transform="translate(196.5 854) scale(0.912 1)" font-family="Liberation Sans, sans-serif" font-size="10.2" fill="#000" text-anchor="start" text-rendering="geometricPrecision" stroke="#000" stroke-width="0.25">19 Oct 08:00</text>
<text transform="translate(260.5 854) scale(0.912 1)" font-family="Liberation Sans, sans-serif" font-size="10.2" fill="#000" text-anchor="start" text-rendering="geometricPrecision" stroke="#000" stroke-width="0.25">20 Oct 00:00</text>
<text transform="translate(324.5 854) scale(0.912 1)" font-family="Liberation Sans, sans-serif" font-size="10.2" fill="#000" text-anchor="start" text-rendering="geometricPrecision" stroke="#000" stroke-width="0.25">20 Oct 16:00</text>
<text transform="translate(388.5 854) scale(0.912 1)" font-family="Liberation Sans, sans-serif" font-size="10.2" fill="#000" text-anchor="start" text-rendering="geometricPrecision" stroke="#000" stroke-width="0.25">21 Oct 08:00</text>
<text transform="translate(452.5 854) scale(0.912 1)" font-family="Liberation Sans, sans-serif" font-size="10.2" fill="#000" text-anchor="start" text-rendering="geometricPrecision" stroke="#000" stroke-width="0.25">24 Oct 00:00</text>
<text transform="translate(516.5 854) scale(0.912 1)" font-family="Liberation Sans, sans-serif" font-size="10.2" fill="#000" text-anchor="start" text-rendering="geometricPrecision" stroke="#000" stroke-width="0.25">24 Oct 16:00</text>
<text transform="translate(580.5 854) scale(0.912 1)" font-family="Liberation Sans, sans-serif" font-size="10.2" fill="#000" text-anchor="start" text-rendering="geometricPrecision" stroke="#000" stroke-width="0.25">25 Oct 08:00</text>
<text transform="translate(644.5 854) scale(0.912 1)" font-family="Liberation Sans, sans-serif" font-size="10.2" fill="#000" text-anchor="start" text-rendering="geometricPrecision" stroke="#000" stroke-width="0.25">26 Oct 00:00</text>
<text transform="translate(708.5 854) scale(0.912 1)" font-family="Liberation Sans, sans-serif" font-size="10.2" fill="#000" text-anchor="start" text-rendering="geometricPrecision" stroke="#000" stroke-width="0.25">26 Oct 16:00</text>
<text transform="translate(772.5 854) scale(0.912 1)" font-family="Liberation Sans, sans-serif" font-size="10.2" fill="#000" text-anchor="start" text-rendering="geometricPrecision" stroke="#000" stroke-width="0.25">27 Oct 08:00</text>
<text transform="translate(836.5 854) scale(0.912 1)" font-family="Liberation Sans, sans-serif" font-size="10.2" fill="#000" text-anchor="start" text-rendering="geometricPrecision" stroke="#000" stroke-width="0.25">28 Oct 00:00</text>
<text transform="translate(900.5 854) scale(0.912 1)" font-family="Liberation Sans, sans-serif" font-size="10.2" fill="#000" text-anchor="start" text-rendering="geometricPrecision" stroke="#000" stroke-width="0.25">28 Oct 16:00</text>
<text transform="translate(964.5 854) scale(0.912 1)" font-family="Liberation Sans, sans-serif" font-size="10.2" fill="#000" text-anchor="start" text-rendering="geometricPrecision" stroke="#000" stroke-width="0.25">31 Oct 08:00</text>
<text transform="translate(1028.5 854) scale(0.912 1)" font-family="Liberation Sans, sans-serif" font-size="10.2" fill="#000" text-anchor="start" text-rendering="geometricPrecision" stroke="#000" stroke-width="0.25">1 Nov 00:00</text>
<text transform="translate(1092.5 854) scale(0.912 1)" font-family="Liberation Sans, sans-serif" font-size="10.2" fill="#000" text-anchor="start" text-rendering="geometricPrecision" stroke="#000" stroke-width="0.25">1 Nov 16:00</text>
<text transform="translate(1156.5 854) scale(0.912 1)" font-family="Liberation Sans, sans-serif" font-size="10.2" fill="#000" text-anchor="start" text-rendering="geometricPrecision" stroke="#000" stroke-width="0.25">2 Nov 08:00</text>
<text transform="translate(1220.5 854) scale(0.912 1)" font-family="Liberation Sans, sans-serif" font-size="10.2" fill="#000" text-anchor="start" text-rendering="geometricPrecision" stroke="#000" stroke-width="0.25">3 Nov 00:00</text>
<text transform="translate(1284.5 854) scale(0.912 1)" font-family="Liberation Sans, sans-serif" font-size="10.2" fill="#000" text-anchor="start" text-rendering="geometricPrecision" stroke="#000" stroke-width="0.25">3 Nov 16:00</text>
<text transform="translate(1348.5 854) scale(0.912 1)" font-family="Liberation Sans, sans-serif" font-size="10.2" fill="#000" text-anchor="start" text-rendering="geometricPrecision" stroke="#000" stroke-width="0.25">4 Nov 08:00</text>
<g id="toolbar">
<defs>
<linearGradient id="gp" x1="0" y1="0" x2="0" y2="1"><stop offset="0" stop-color="#7dff7d"/><stop offset="0.5" stop-color="#19d619"/><stop offset="1" stop-color="#0aa00a"/></linearGradient>
<linearGradient id="gold" x1="0" y1="0" x2="1" y2="1"><stop offset="0" stop-color="#ffe26a"/><stop offset="0.6" stop-color="#e8b010"/><stop offset="1" stop-color="#b07a08"/></linearGradient>
<linearGradient id="blu" x1="0" y1="0" x2="0" y2="1"><stop offset="0" stop-color="#5ab4ff"/><stop offset="1" stop-color="#1a6ad8"/></linearGradient>
<radialGradient id="lens" cx="0.4" cy="0.35" r="0.7"><stop offset="0" stop-color="#ffffff"/><stop offset="1" stop-color="#b8dcf8"/></radialGradient>
<linearGradient id="redb" x1="0" y1="0" x2="0" y2="1"><stop offset="0" stop-color="#ec5030"/><stop offset="1" stop-color="#d82010"/></linearGradient>
<linearGradient id="cloud" x1="0" y1="0" x2="0" y2="1"><stop offset="0" stop-color="#ffffff"/><stop offset="0.55" stop-color="#f2f4f8"/><stop offset="1" stop-color="#b4c0d8"/></linearGradient>
<linearGradient id="sg" x1="0" y1="0" x2="1" y2="1"><stop offset="0" stop-color="#d8ecd8"/><stop offset="1" stop-color="#2ca02c"/></linearGradient>
<linearGradient id="hat" x1="0" y1="0" x2="0" y2="1"><stop offset="0" stop-color="#8fd0f4"/><stop offset="1" stop-color="#3c9cd8"/></linearGradient>
<linearGradient id="yel" x1="0" y1="0" x2="1" y2="1"><stop offset="0" stop-color="#ffe860"/><stop offset="1" stop-color="#f0b820"/></linearGradient>
<linearGradient id="sg2" x1="0" y1="0" x2="0.3" y2="1"><stop offset="0" stop-color="#cfe6cf" stop-opacity="0.5"/><stop offset="1" stop-color="#2ca02c" stop-opacity="0.95"/></linearGradient>
<linearGradient id="blu2" x1="0" y1="0" x2="0" y2="1"><stop offset="0" stop-color="#3a9af4"/><stop offset="1" stop-color="#0c3e9c"/></linearGradient>
</defs>
<rect x="2" y="1" width="1" height="21" fill="#a0a0a0" shape-rendering="crispEdges"/>
<rect x="3" y="1" width="1" height="21" fill="#ffffff" shape-rendering="crispEdges"/>
<path d="M12.5 4.5 L20.5 4.5 L23.5 7.5 L23.5 17.5 L12.5 17.5 Z" fill="#fdfdfd" stroke="#8c8c8c" stroke-width="1"/>
<path d="M20.5 4.5 L20.5 7.5 L23.5 7.5" fill="#e4e4e4" stroke="#8c8c8c" stroke-width="0.8"/>
<g fill="#9a9a9a"><rect x="14.5" y="7" width="3" height="1"/><rect x="14.5" y="9.5" width="6" height="1"/><rect x="14.5" y="12" width="5" height="1"/></g>
<path d="M20.3 10.4 h3.6 v3.8 h3.8 v3.6 h-3.8 v3.8 h-3.6 v-3.8 h-3.8 v-3.6 h3.8 Z" fill="url(#gp)" stroke="#0c8a0c" stroke-width="0.8"/>
<text x="31" y="15.6" font-family="Liberation Sans, Noto Sans CJK SC, sans-serif" font-size="12" fill="#000" stroke="#000" stroke-width="0.3">新订单</text>
<path d="M84.6 5.2 L94.2 12 L94.8 14.4 L86.8 19.8 L79.1 14.4 Q82 11.6 82.9 10.4 Q84.1 8 84.6 5.2 Z" fill="#c89a28" stroke="#9a6808" stroke-width="0.9" stroke-linejoin="round"/>
<path d="M84.8 5.8 L93.8 12.2 L86.7 18 L79.8 14 Q82.4 11.8 83.3 10.6 Q84.4 8.2 84.8 5.8 Z" fill="url(#gold)"/>
<path d="M79.6 14.3 L86.7 18.3 L86.8 19.3 L79.9 15.2 Z" fill="#f6e08a"/>
<path d="M94 12.6 L94.4 14.2 L87.2 19.2 L87 18.2 Z" fill="#e2d49a"/>
<path d="M109.1 4.6 L111 4.1 L118.6 4.7 L120 6.6 L120 14 L109.1 14 Z" fill="url(#blu)"/>
<path d="M109.1 4.6 L112.6 6.6 L112.6 14 L109.1 14 Z" fill="#0a9cf8"/>
<path d="M109.3 4.5 L112.7 6.5 L120 6.6" fill="none" stroke="#d6f0ff" stroke-width="0.7"/>
<rect x="114.2" y="8.4" width="4.6" height="1.3" fill="#eaf6ff"/>
<path d="M110.2 19.4 Q107.4 19.4 107.5 17 Q107.6 14.9 109.6 14.8 Q110.6 13.4 112.4 13.8 Q113.4 12.2 115.4 12.3 Q117.6 12.3 118.6 13.9 Q120 13.1 121.2 13.9 Q123 14.4 122.8 16.6 Q123.2 19.4 120.4 19.4 Z" fill="url(#cloud)" stroke="#4c6498" stroke-width="0.9"/>
<circle cx="142.9" cy="11.9" r="7.8" fill="#edf0f2"/>
<path d="M142.9 11.9 L146.8 5.2 A7.8 7.8 0 0 1 142.9 19.7 Z" fill="url(#sg2)"/>
<g fill="none"><circle cx="142.9" cy="11.9" r="7.5" stroke="#4a74cc" stroke-width="0.9" opacity="0.5"/><circle cx="142.9" cy="11.9" r="4.9" stroke="#4a74cc" stroke-width="0.9" opacity="0.5"/>
<path d="M135.4 9.8 A7.5 7.5 0 0 0 135.7 14.4" stroke="#2c58c8" stroke-width="1"/><path d="M138.1 10.8 A4.9 4.9 0 0 0 138.3 13.4" stroke="#2c58c8" stroke-width="1"/><path d="M150.1 9.6 A7.5 7.5 0 0 1 150.2 13.8" stroke="#2a5a9a" stroke-width="1"/></g>
<circle cx="142.7" cy="11.6" r="1.7" fill="#2a56c8"/><rect x="142.9" y="12" width="1.3" height="7.7" fill="#18a018"/>
<path d="M162.3 11.2 L177.8 11.2 L177.4 13 L170.2 19.8 L168.6 19.4 Z" fill="url(#yel)" stroke="#c89010" stroke-width="0.7" stroke-linejoin="round"/>
<path d="M162.2 8.6 Q162.6 6.6 165.8 7.4 Q166.2 4 169.6 4.1 Q173 4 173.4 7.2 Q175.8 6.4 177.6 7 Q178.4 8.4 176.4 9.8 Q173 11.6 169.6 11.5 Q164.6 11.6 162.6 10 Q162 9.4 162.2 8.6 Z" fill="url(#hat)" stroke="#2a86b8" stroke-width="0.8"/>
<path d="M166 7.8 Q169.6 9.4 173.4 7.6" fill="none" stroke="#2a86b8" stroke-width="0.6"/>
<circle cx="174.5" cy="15.7" r="4.2" fill="#dc2a10"/><circle cx="174.5" cy="15.7" r="4.2" fill="none" stroke="#b81c08" stroke-width="0.6"/><rect x="173.2" y="14.3" width="2.7" height="2.8" fill="#fff"/>
<text x="183.6" y="15.6" font-family="Liberation Sans, Noto Sans CJK SC, sans-serif" font-size="12" fill="#000" stroke="#000" stroke-width="0.3">自动交易</text>
<rect x="238" y="0" width="1" height="24" fill="#a0a0a0" shape-rendering="crispEdges"/>
<rect x="239" y="0" width="1" height="24" fill="#ffffff" shape-rendering="crispEdges"/>
<g shape-rendering="crispEdges">
<rect x="242" y="2" width="3" height="1" fill="#b0b0b0"/>
<rect x="242" y="4" width="3" height="1" fill="#b0b0b0"/>
<rect x="242" y="6" width="3" height="1" fill="#b0b0b0"/>
<rect x="242" y="8" width="3" height="1" fill="#b0b0b0"/>
<rect x="242" y="10" width="3" height="1" fill="#b0b0b0"/>
<rect x="242" y="12" width="3" height="1" fill="#b0b0b0"/>
<rect x="242" y="14" width="3" height="1" fill="#b0b0b0"/>
<rect x="242" y="16" width="3" height="1" fill="#b0b0b0"/>
<rect x="242" y="18" width="3" height="1" fill="#b0b0b0"/>
<rect x="242" y="20" width="3" height="1" fill="#b0b0b0"/>
</g>
<g fill="#4a4a4a" shape-rendering="crispEdges">
<rect x="256" y="7" width="1" height="13" fill="#4a4a4a"/>
<rect x="254" y="17" width="13" height="1" fill="#4a4a4a"/>
</g>
<path d="M256.5 5.6 L254.7 8.4 L258.3 8.4 Z M268.2 17.5 L265.4 15.7 L265.4 19.3 Z" fill="#4a4a4a"/>
<g fill="#1d9a1d" shape-rendering="crispEdges"><rect x="262" y="7" width="1" height="9"/><rect x="260" y="14" width="2" height="1"/><rect x="263" y="8" width="2" height="1"/></g>
<g shape-rendering="crispEdges">
<rect x="276" y="0" width="25" height="22" fill="#f8f8f8"/>
<rect x="276" y="0" width="25" height="1" fill="#a0a0a0"/>
<rect x="276" y="0" width="1" height="22" fill="#a0a0a0"/>
<rect x="301" y="0" width="1" height="23" fill="#ffffff"/>
<rect x="276" y="22" width="25" height="1" fill="#ffffff"/>
</g>
<g fill="#4a4a4a" shape-rendering="crispEdges">
<rect x="284" y="7" width="1" height="13" fill="#4a4a4a"/>
<rect x="282" y="17" width="13" height="1" fill="#4a4a4a"/>
</g>
<path d="M284.5 5.6 L282.7 8.4 L286.3 8.4 Z M296.2 17.5 L293.4 15.7 L293.4 19.3 Z" fill="#4a4a4a"/>
<g shape-rendering="crispEdges"><rect x="290" y="4" width="1" height="12" fill="#1d9a1d"/><rect x="288" y="6" width="5" height="9" fill="#18a818"/><rect x="289" y="7" width="3" height="7" fill="#5be05b"/></g>
<g fill="#4a4a4a" shape-rendering="crispEdges">
<rect x="312" y="7" width="1" height="13" fill="#4a4a4a"/>
<rect x="310" y="17" width="13" height="1" fill="#4a4a4a"/>
</g>
<path d="M312.5 5.6 L310.7 8.4 L314.3 8.4 Z M324.2 17.5 L321.4 15.7 L321.4 19.3 Z" fill="#4a4a4a"/>
<path d="M311 14.5 Q315 9 317.5 9.2 Q319 9.4 320.5 11.4 Q321.6 12.8 323 13.2" fill="none" stroke="#2a9a2a" stroke-width="1.2"/>
<rect x="333" y="1" width="1" height="21" fill="#a0a0a0" shape-rendering="crispEdges"/>
<rect x="334" y="1" width="1" height="21" fill="#ffffff" shape-rendering="crispEdges"/>
<path d="M352 14 L357.5 19" stroke="#b8921c" stroke-width="3.4" stroke-linecap="round"/>
<path d="M352.2 13.8 L357.2 18.4" stroke="#f2d65a" stroke-width="1.4" stroke-linecap="round"/>
<circle cx="348" cy="10" r="5.6" fill="url(#lens)" stroke="#3c78c8" stroke-width="1.3"/>
<rect x="345" y="9.2" width="6" height="1.8" fill="#3a78b4"/>
<rect x="347.1" y="7" width="1.8" height="6" fill="#3a78b4"/>
<path d="M380 14 L385.5 19" stroke="#b8921c" stroke-width="3.4" stroke-linecap="round"/>
<path d="M380.2 13.8 L385.2 18.4" stroke="#f2d65a" stroke-width="1.4" stroke-linecap="round"/>
<circle cx="376" cy="10" r="5.6" fill="url(#lens)" stroke="#3c78c8" stroke-width="1.3"/>
<rect x="373" y="9.2" width="6" height="1.8" fill="#3a78b4"/>
<g shape-rendering="crispEdges">
<rect x="398" y="4" width="8" height="8" fill="#2a9a10"/>
<rect x="399" y="7" width="6" height="4" fill="#ffffff"/>
<rect x="400" y="9" width="4" height="1" fill="#49b52a"/>
<rect x="399" y="5" width="1" height="1" fill="#dfe"/>
<rect x="406" y="4" width="8" height="8" fill="#1a4ec8"/>
<rect x="407" y="7" width="6" height="4" fill="#ffffff"/>
<rect x="408" y="9" width="4" height="1" fill="#3a74e0"/>
<rect x="407" y="5" width="1" height="1" fill="#dfe"/>
<rect x="398" y="12" width="8" height="8" fill="#1a4ec8"/>
<rect x="399" y="15" width="6" height="4" fill="#ffffff"/>
<rect x="400" y="17" width="4" height="1" fill="#3a74e0"/>
<rect x="399" y="13" width="1" height="1" fill="#dfe"/>
<rect x="406" y="12" width="8" height="8" fill="#2a9a10"/>
<rect x="407" y="15" width="6" height="4" fill="#ffffff"/>
<rect x="408" y="17" width="4" height="1" fill="#49b52a"/>
<rect x="407" y="13" width="1" height="1" fill="#dfe"/>
</g>
<rect x="423" y="1" width="1" height="21" fill="#a0a0a0" shape-rendering="crispEdges"/>
<rect x="424" y="1" width="1" height="21" fill="#ffffff" shape-rendering="crispEdges"/>
<g shape-rendering="crispEdges">
<rect x="428" y="0" width="25" height="22" fill="#f8f8f8"/>
<rect x="428" y="0" width="25" height="1" fill="#a0a0a0"/>
<rect x="428" y="0" width="1" height="22" fill="#a0a0a0"/>
<rect x="453" y="0" width="1" height="23" fill="#ffffff"/>
<rect x="428" y="22" width="25" height="1" fill="#ffffff"/>
</g>
<g fill="#4a4a4a" shape-rendering="crispEdges">
<rect x="436" y="7" width="1" height="13" fill="#4a4a4a"/>
<rect x="434" y="17" width="13" height="1" fill="#4a4a4a"/>
</g>
<path d="M436.5 5.6 L434.7 8.4 L438.3 8.4 Z M448.2 17.5 L445.4 15.7 L445.4 19.3 Z" fill="#4a4a4a"/>
<path d="M441 8.6 L445 11.6 L441 14.6 Z" fill="#55d86a" stroke="#1f9a2c" stroke-width="0.9"/>
<g shape-rendering="crispEdges">
<rect x="456" y="0" width="25" height="22" fill="#f8f8f8"/>
<rect x="456" y="0" width="25" height="1" fill="#a0a0a0"/>
<rect x="456" y="0" width="1" height="22" fill="#a0a0a0"/>
<rect x="481" y="0" width="1" height="23" fill="#ffffff"/>
<rect x="456" y="22" width="25" height="1" fill="#ffffff"/>
</g>
<g fill="#4a4a4a" shape-rendering="crispEdges">
<rect x="464" y="7" width="1" height="13" fill="#4a4a4a"/>
<rect x="462" y="17" width="13" height="1" fill="#4a4a4a"/>
</g>
<path d="M464.5 5.6 L462.7 8.4 L466.3 8.4 Z M476.2 17.5 L473.4 15.7 L473.4 19.3 Z" fill="#4a4a4a"/>
<rect x="470" y="6" width="1" height="10" fill="#1a6aa8" shape-rendering="crispEdges"/>
<path d="M471.4 11.5 L474.6 9 L474 11 L476.6 11 L476.6 12 L474 12 L474.6 14 Z" fill="#e05a10"/>
<rect x="485" y="1" width="1" height="21" fill="#a0a0a0" shape-rendering="crispEdges"/>
<rect x="486" y="1" width="1" height="21" fill="#ffffff" shape-rendering="crispEdges"/>
<path d="M495.5 4.5 L503.5 4.5 L506.5 7.5 L506.5 17.5 L495.5 17.5 Z" fill="#fdfdfd" stroke="#8c8c8c" stroke-width="1"/>
<path d="M503.5 4.5 L503.5 7.5 L506.5 7.5" fill="#e4e4e4" stroke="#8c8c8c" stroke-width="0.8"/>
<g fill="#9a9a9a"><rect x="497.5" y="7" width="3" height="1"/><rect x="497.5" y="9.5" width="6" height="1"/><rect x="497.5" y="12" width="5" height="1"/></g>
<path d="M503.3 10.4 h3.6 v3.8 h3.8 v3.6 h-3.8 v3.8 h-3.6 v-3.8 h-3.8 v-3.6 h3.8 Z" fill="url(#gp)" stroke="#0c8a0c" stroke-width="0.8"/>
<path d="M517 10.8 L522.4 10.8 L519.7 14 Z" fill="#000"/>
<circle cx="541" cy="12" r="6.8" fill="#eef0f4" stroke="url(#blu2)" stroke-width="2.8"/>
<path d="M541 8 L541 12 L543.6 12.8" fill="none" stroke="#333" stroke-width="1.1"/>
<path d="M556 10.8 L561.4 10.8 L558.7 14 Z" fill="#000"/>
<g shape-rendering="crispEdges">
<rect x="572" y="5" width="16" height="14" fill="#2c6ac0"/>
<rect x="573" y="6" width="14" height="1" fill="#9cc4f0"/>
<rect x="573" y="8" width="14" height="4" fill="#fff"/>
<rect x="573" y="13" width="14" height="5" fill="#fff"/>
</g>
<path d="M574 11 L577 10.4 L579 9.6 L581 10.4 L583 9.8 L586 9.2" fill="none" stroke="#a82010" stroke-width="1.3"/>
<path d="M574 16.4 L577 15.4 L579 16.2 L582 14.6 L584 16 L586 16.6" fill="none" stroke="#18902c" stroke-width="1.2"/>
<path d="M595 10.8 L600.4 10.8 L597.7 14 Z" fill="#000"/>
<rect x="606" y="0" width="1" height="24" fill="#a0a0a0" shape-rendering="crispEdges"/>
<rect x="607" y="0" width="1" height="24" fill="#ffffff" shape-rendering="crispEdges"/>
<g shape-rendering="crispEdges">
<rect x="610" y="2" width="3" height="1" fill="#b0b0b0"/>
<rect x="610" y="4" width="3" height="1" fill="#b0b0b0"/>
<rect x="610" y="6" width="3" height="1" fill="#b0b0b0"/>
<rect x="610" y="8" width="3" height="1" fill="#b0b0b0"/>
<rect x="610" y="10" width="3" height="1" fill="#b0b0b0"/>
<rect x="610" y="12" width="3" height="1" fill="#b0b0b0"/>
<rect x="610" y="14" width="3" height="1" fill="#b0b0b0"/>
<rect x="610" y="16" width="3" height="1" fill="#b0b0b0"/>
<rect x="610" y="18" width="3" height="1" fill="#b0b0b0"/>
<rect x="610" y="20" width="3" height="1" fill="#b0b0b0"/>
</g>
<g shape-rendering="crispEdges">
<rect x="616" y="0" width="25" height="22" fill="#f8f8f8"/>
<rect x="616" y="0" width="25" height="1" fill="#a0a0a0"/>
<rect x="616" y="0" width="1" height="22" fill="#a0a0a0"/>
<rect x="641" y="0" width="1" height="23" fill="#ffffff"/>
<rect x="616" y="22" width="25" height="1" fill="#ffffff"/>
</g>
<path d="M624 5 L624 16.4 L626.8 14 L629.2 19 L631 18.2 L628.8 13.4 L632.4 13 Z" fill="#424242"/>
<g fill="#4a4a4a" shape-rendering="crispEdges"><rect x="656" y="5" width="1" height="15"/><rect x="649" y="12" width="15" height="1"/><rect x="656" y="12" width="1" height="1" fill="#f0f0f0"/></g>
<rect x="673" y="1" width="1" height="21" fill="#a0a0a0" shape-rendering="crispEdges"/>
<rect x="674" y="1" width="1" height="21" fill="#ffffff" shape-rendering="crispEdges"/>
<g fill="#4a4a4a" shape-rendering="crispEdges"><rect x="690" y="6" width="1" height="13"/><rect x="713" y="12" width="12" height="1"/></g>
<path d="M740.8 18.8 L753 7" stroke="#4a4a4a" stroke-width="1.1"/>
<g stroke="#4a4a4a" stroke-width="1" fill="none"><path d="M767 14 L776 6"/><path d="M768.5 18 L781 8"/><path d="M772 18.8 L781.5 11"/><path d="M769.5 13 l0.8 5 M772.5 10.5 l0.8 5 M775.5 8 l0.8 5.4 M778.5 5 l0.8 6"/></g>
<text x="777.6" y="20.8" font-family="Liberation Sans, sans-serif" font-size="7" font-weight="bold" fill="#333">E</text>
<g stroke="#4a4a4a" stroke-width="1" stroke-dasharray="1 1" shape-rendering="crispEdges"><path d="M796 5.5 H810 M796 8.5 H810 M796 12.5 H810 M796 16.5 H806"/></g>
<text x="805.8" y="20.8" font-family="Liberation Sans, sans-serif" font-size="7" font-weight="bold" fill="#333">F</text>
<text x="826.7" y="16.9" font-family="Liberation Sans, sans-serif" font-size="11.6" fill="#505050" stroke="#505050" stroke-width="0.3">A</text>
<rect x="853.5" y="6.5" width="11" height="11.5" fill="none" stroke="#4a4a4a" stroke-width="1" stroke-dasharray="1 1" shape-rendering="crispEdges"/>
<g fill="#4a4a4a"><rect x="855" y="9" width="8" height="1.4"/><rect x="858.2" y="9" width="1.6" height="7.6"/></g>
<g fill="#4a4a4a"><path d="M880 8.1 L883.5 5.6 L887 8.1 L883.5 10.6 Z"/><path d="M887 16.5 L890.6 14 L894.2 16.5 L890.6 19 Z"/></g>
<path d="M882.4 13.6 L884.6 15.6 L888.4 10.6" fill="none" stroke="#4a4a4a" stroke-width="1.3"/>
<path d="M901 10.8 L906.4 10.8 L903.7 14 Z" fill="#000"/>
<rect x="912" y="0" width="1" height="24" fill="#a0a0a0" shape-rendering="crispEdges"/>
<rect x="913" y="0" width="1" height="24" fill="#ffffff" shape-rendering="crispEdges"/>
<g shape-rendering="crispEdges">
<rect x="916" y="2" width="3" height="1" fill="#b0b0b0"/>
<rect x="916" y="4" width="3" height="1" fill="#b0b0b0"/>
<rect x="916" y="6" width="3" height="1" fill="#b0b0b0"/>
<rect x="916" y="8" width="3" height="1" fill="#b0b0b0"/>
<rect x="916" y="10" width="3" height="1" fill="#b0b0b0"/>
<rect x="916" y="12" width="3" height="1" fill="#b0b0b0"/>
<rect x="916" y="14" width="3" height="1" fill="#b0b0b0"/>
<rect x="916" y="16" width="3" height="1" fill="#b0b0b0"/>
<rect x="916" y="18" width="3" height="1" fill="#b0b0b0"/>
<rect x="916" y="20" width="3" height="1" fill="#b0b0b0"/>
</g>
<g shape-rendering="crispEdges">
<rect x="1062" y="0" width="25" height="22" fill="#f8f8f8"/>
<rect x="1062" y="0" width="25" height="1" fill="#a0a0a0"/>
<rect x="1062" y="0" width="1" height="22" fill="#a0a0a0"/>
<rect x="1087" y="0" width="1" height="23" fill="#ffffff"/>
<rect x="1062" y="22" width="25" height="1" fill="#ffffff"/>
</g>
<text x="927.4" y="15.8" font-family="Liberation Sans, sans-serif" font-size="9.4" fill="#484848">M1</text>
<text x="955.3" y="15.8" font-family="Liberation Sans, sans-serif" font-size="9.4" fill="#484848">M5</text>
<text x="981.2" y="15.8" font-family="Liberation Sans, sans-serif" font-size="9.4" fill="#484848">M15</text>
<text x="1009.3" y="15.8" font-family="Liberation Sans, sans-serif" font-size="9.4" fill="#484848">M30</text>
<text x="1040.4" y="15.8" font-family="Liberation Sans, sans-serif" font-size="9.4" fill="#484848">H1</text>
<text x="1067.4" y="15.8" font-family="Liberation Sans, sans-serif" font-size="9.4" fill="#484848">H4</text>
<text x="1096.2" y="15.8" font-family="Liberation Sans, sans-serif" font-size="9.4" fill="#484848">D1</text>
<text x="1123.8" y="15.8" font-family="Liberation Sans, sans-serif" font-size="9.4" fill="#484848">W1</text>
<text x="1150.5" y="15.8" font-family="Liberation Sans, sans-serif" font-size="9.4" fill="#484848">MN</text>
<rect x="1173" y="0" width="1" height="24" fill="#a0a0a0" shape-rendering="crispEdges"/>
<rect x="1174" y="0" width="1" height="24" fill="#ffffff" shape-rendering="crispEdges"/>
<circle cx="1643.6" cy="9.2" r="4" fill="#f4f6fb" stroke="#2456c8" stroke-width="1.3"/><path d="M1640.6 12.2 L1635.8 17" stroke="#2456c8" stroke-width="2.2" stroke-linecap="round"/>
<path d="M1661 14 Q1661 9.5 1667 9.5 Q1673 9.5 1673 14 Q1673 18 1667 18 L1665 18 L1663.4 20.4 L1663.4 17.6 Q1661 16.8 1661 14 Z" fill="#e2e4ee" stroke="#9a9a9a" stroke-width="0.8"/>
<circle cx="1674.6" cy="9.5" r="8.2" fill="url(#redb)"/>
<text x="1674.6" y="14.2" font-family="Liberation Sans, sans-serif" font-size="13" fill="#fff" text-anchor="middle">1</text>
</g>
</svg>
</body></html>
